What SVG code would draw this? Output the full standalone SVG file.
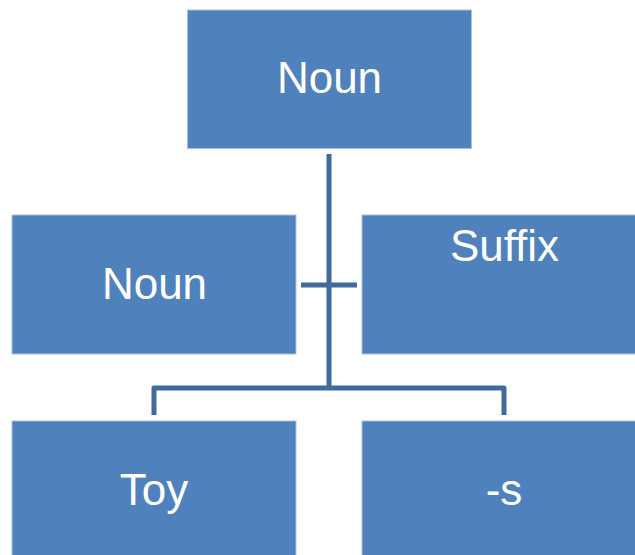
<svg xmlns="http://www.w3.org/2000/svg" width="635" height="555" viewBox="0 0 635 555">
  <style>
    .box { fill: #4F81BD; stroke: #A9C1E0; stroke-width: 1; }
    .label { fill: #FFFFFF; font-family: "Liberation Sans", Arial, sans-serif; font-size: 44px; text-anchor: middle; }
    .conn { fill: none; stroke: #40699C; stroke-width: 5; stroke-linejoin: round; }
  </style>
  <rect width="635" height="555" fill="#FFFFFF"/>

  <g id="connectors">
    <line class="conn" x1="329" y1="154" x2="329" y2="388"/>
    <line class="conn" x1="301" y1="285" x2="357" y2="285"/>
    <path class="conn" d="M154 415 V388 H504 V415"/>
  </g>

  <g id="node-noun-top">
    <rect class="box" x="187.5" y="10" width="284" height="138.5"/>
    <text class="label" x="329.5" y="93">Noun</text>
  </g>

  <g id="node-noun-mid">
    <rect class="box" x="12" y="215" width="284" height="139"/>
    <text class="label" x="154.5" y="299">Noun</text>
  </g>

  <g id="node-suffix">
    <rect class="box" x="362" y="215" width="284" height="139"/>
    <text class="label" x="504.5" y="261">Suffix</text>
  </g>

  <g id="node-toy">
    <rect class="box" x="12" y="421" width="284" height="139"/>
    <text class="label" x="154" y="505">Toy</text>
  </g>

  <g id="node-s">
    <rect class="box" x="362" y="421" width="284" height="139"/>
    <text class="label" x="504" y="505">-s</text>
  </g>
</svg>
